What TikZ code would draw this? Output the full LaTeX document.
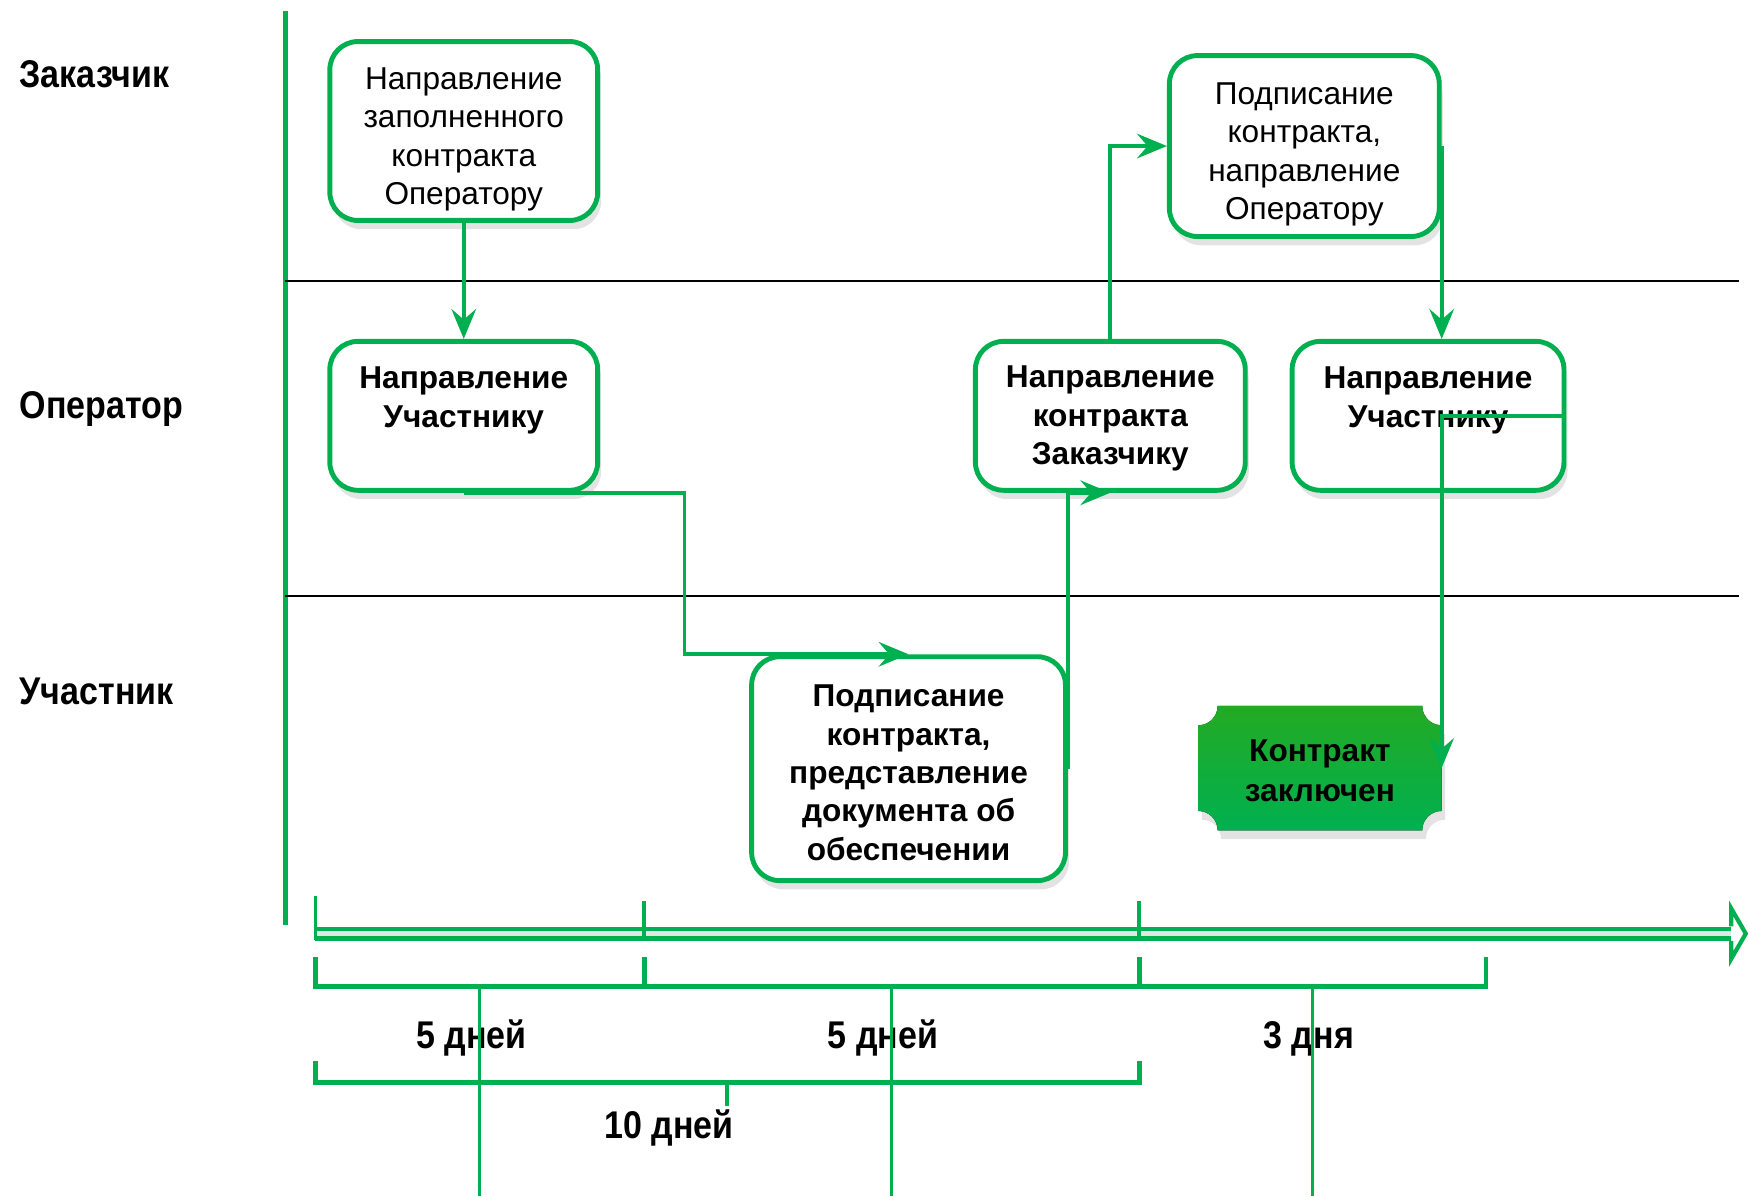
\documentclass[tikz,border=0pt]{standalone}
\usepackage{fontspec}
\setmainfont{Liberation Sans}
\newfontfamily\narrowfont[FakeStretch=0.88]{Liberation Sans}
\usetikzlibrary{arrows.meta,shadows,backgrounds,calc}

\definecolor{bpgreen}{RGB}{0,176,80}
\definecolor{bpgreentop}{RGB}{36,170,36}

\newcommand{\topline}[1]{\rule{0pt}{#1}}

\tikzset{
  lane/.style={font=\narrowfont\bfseries\fontsize{11}{13}\selectfont, anchor=west, inner sep=0pt, text height=8pt, text depth=2.5pt},
  task/.style={draw=bpgreen, line width=1.4pt, rounded corners=8pt, fill=white, align=center, inner sep=2pt,
    font=\fontsize{9}{10.9}\selectfont, drop shadow={shadow xshift=1pt, shadow yshift=-2.5pt, opacity=0.22}},
  taskb/.style={task, font=\bfseries\fontsize{9}{10.9}\selectfont},
  flow/.style={draw=bpgreen, line width=1.1pt, -{Stealth[length=8.5pt,width=7pt,inset=3pt]}},
  span/.style={font=\narrowfont\bfseries\fontsize{11}{13}\selectfont, text height=8pt, text depth=2.5pt},
}

\begin{document}
\begin{tikzpicture}[x=0.011148cm, y=-0.011148cm]

\useasboundingbox (0,0) rectangle (1568,1073);

\draw[bpgreen, line width=1.5pt] (256,10) -- (256,830);
\draw[line width=0.6pt] (256,252) -- (1560,252);
\draw[line width=0.6pt] (256,535) -- (1560,535);

\node[lane] (zak) at (17,70) {Заказчик};
\node[lane] (oper) at (17,367) {Оператор};
\node[lane] (uch) at (17,623) {Участник};

\node[task, minimum width=2.68cm, minimum height=1.79cm] (b1) at (416,117.5) {\topline{10.9pt}Направление\\заполненного\\контракта\\Оператору};
\node[taskb, minimum width=2.68cm, minimum height=1.49cm] (b2) at (416,373) {\topline{9.7pt}Направление\\Участнику\\\strut};
\node[task, minimum width=2.70cm, minimum height=1.81cm] (b3) at (1170,131) {\topline{10.9pt}Подписание\\контракта,\\направление\\Оператору};
\node[taskb, minimum width=2.70cm, minimum height=1.49cm] (b4) at (996,373) {\topline{7.8pt}Направление\\контракта\\Заказчику};
\node[taskb, minimum width=2.72cm, minimum height=1.49cm] (b5) at (1281,373) {\topline{9.7pt}Направление\\Участнику\\\strut};
\node[taskb, minimum width=3.14cm, minimum height=2.24cm] (b6) at (815,689.5) {\topline{8.5pt}Подписание\\контракта,\\представление\\документа об\\обеспечении};
\node[align=center, inner sep=0pt, minimum width=2.42cm, minimum height=1.23cm, font=\bfseries\fontsize{9}{11.3}\selectfont] (ok) at (1184,689) {\topline{7.8pt}Контракт\\заключен};

\begin{scope}[on background layer]
\fill[top color=bpgreentop, bottom color=bpgreen, drop shadow={shadow xshift=1pt, shadow yshift=-2.5pt, opacity=0.22}]
  ($(ok.north west)+(5.5pt,0)$) -- ($(ok.north east)+(-5.5pt,0)$) arc[start angle=180, end angle=270, radius=5.5pt]
  -- ($(ok.south east)+(0,5.5pt)$) arc[start angle=90, end angle=180, radius=5.5pt]
  -- ($(ok.south west)+(5.5pt,0)$) arc[start angle=0, end angle=90, radius=5.5pt]
  -- ($(ok.north west)+(0,-5.5pt)$) arc[start angle=-90, end angle=0, radius=5.5pt] -- cycle;
\end{scope}

\coordinate (k1) at (614,500);
\draw[flow] (b1) -- (b2);
\draw[flow] (b2.south) -| (k1) |- (b6.north);
\draw[flow] (b6.east) |- (b4.south);
\draw[flow] (b4.north) |- (b3.west);
\draw[flow] (b3.east) -- (b3.east |- b5.north);
\draw[flow] (b5.east) -| (ok.east);

\draw[bpgreen, line width=1.2pt, double=gray!20, double distance=1.6pt] (283,837.5) -- (1553,837.5);
\draw[bpgreen, line width=1.2pt, fill=white] (1553,831) -- (1553,815) -- (1566,837.5) -- (1553,860) -- (1553,844);
\draw[bpgreen, line width=1.1pt] (283,804) -- (283,843);
\draw[bpgreen, line width=1.1pt] (578,808) -- (578,843);
\draw[bpgreen, line width=1.1pt] (1022,808) -- (1022,843);

\draw[bpgreen, line width=1.4pt] (283,858) -- (283,884.5) -- (1333,884.5) -- (1333,858);
\draw[bpgreen, line width=1.4pt] (578,858) -- (578,884.5);
\draw[bpgreen, line width=1.4pt] (1022,858) -- (1022,884.5);
\draw[bpgreen, line width=1.4pt] (283,952) -- (283,971) -- (1022,971) -- (1022,952);
\draw[bpgreen, line width=1.1pt] (652,971) -- (652,992);

\node[span] (d1) at (423,932) {5 дней};
\node[span] (d2) at (792,932) {5 дней};
\node[span] (d3) at (1174,932) {3 дня};
\node[span] (d4) at (600,1013) {10 дней};

\draw[bpgreen, line width=0.8pt] (430,884.5) -- (430,1073);
\draw[bpgreen, line width=0.8pt] (800,884.5) -- (800,1073);
\draw[bpgreen, line width=0.8pt] (1177,884.5) -- (1177,1073);

\end{tikzpicture}
\end{document}
